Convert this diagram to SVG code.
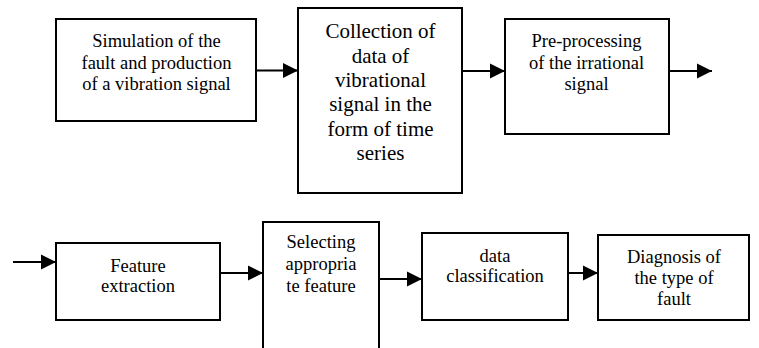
<svg xmlns="http://www.w3.org/2000/svg" width="759" height="348" viewBox="0 0 759 348">
<style>
.box{fill:#fff;stroke:#000;stroke-width:2}
.t{font-family:"Liberation Serif","Times New Roman",serif;fill:#000;text-anchor:middle;font-size:18.5px}
.big{font-size:21px}
.c{stroke:#000;stroke-width:2;fill:none}
</style>
<defs>
<marker id="ah" markerWidth="15" markerHeight="16" refX="15" refY="8" orient="auto" markerUnits="userSpaceOnUse">
<path d="M0,0.5 L15,8 L0,15.5 Z" fill="#000"/>
</marker>
</defs>
<rect width="759" height="348" fill="#fff"/>
<g id="n1">
<rect class="box" x="56" y="19" width="200" height="102"/>
<text class="t" x="156.5" y="47">Simulation of the</text>
<text class="t" x="156.5" y="68.5">fault and production</text>
<text class="t" x="156.5" y="90">of a vibration signal</text>
</g>
<g id="n2">
<rect class="box" x="298" y="8" width="164" height="185"/>
<text class="t big" x="380.5" y="38">Collection of</text>
<text class="t big" x="380.5" y="62.5">data of</text>
<text class="t big" x="380.5" y="87">vibrational</text>
<text class="t big" x="380.5" y="111">signal in the</text>
<text class="t big" x="380.5" y="135.5">form of time</text>
<text class="t big" x="380.5" y="160">series</text>
</g>
<g id="n3">
<rect class="box" x="505" y="19" width="164" height="115"/>
<text class="t" x="586.5" y="47">Pre-processing</text>
<text class="t" x="586.5" y="68.5">of the irrational</text>
<text class="t" x="586.5" y="90">signal</text>
</g>
<g id="n4">
<rect class="box" x="56" y="243" width="164" height="77"/>
<text class="t" x="138" y="271.5">Feature</text>
<text class="t" x="138" y="292">extraction</text>
</g>
<g id="n5">
<rect class="box" x="263" y="222" width="116" height="140"/>
<text class="t" x="321" y="248">Selecting</text>
<text class="t" x="321" y="270">appropria</text>
<text class="t" x="321" y="292">te feature</text>
</g>
<g id="n6">
<rect class="box" x="422" y="233" width="146" height="87"/>
<text class="t" x="495" y="261.5">data</text>
<text class="t" x="495" y="282">classification</text>
</g>
<g id="n7">
<rect class="box" x="598" y="235" width="151" height="85"/>
<text class="t" x="674" y="263">Diagnosis of</text>
<text class="t" x="674" y="284">the type of</text>
<text class="t" x="674" y="305">fault</text>
</g>
<g id="connectors">
<line class="c" x1="256" y1="70.5" x2="298" y2="70.5" marker-end="url(#ah)"/>
<line class="c" x1="462" y1="71" x2="505" y2="71" marker-end="url(#ah)"/>
<line class="c" x1="669" y1="71" x2="712" y2="71" marker-end="url(#ah)"/>
<line class="c" x1="13" y1="262" x2="56" y2="262" marker-end="url(#ah)"/>
<line class="c" x1="220" y1="273" x2="263" y2="273" marker-end="url(#ah)"/>
<line class="c" x1="379" y1="279" x2="422" y2="279" marker-end="url(#ah)"/>
<line class="c" x1="568" y1="273" x2="598" y2="273" marker-end="url(#ah)"/>
</g>
</svg>
